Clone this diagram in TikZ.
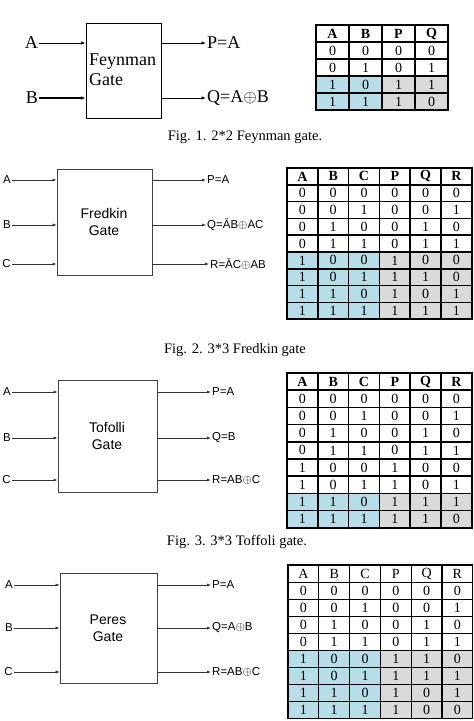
\documentclass[tikz,border=0pt]{standalone}
\usepackage{fontspec}
\setmainfont{Liberation Serif}
\newfontfamily\arialf{Liberation Sans}
\usetikzlibrary{arrows.meta}
\definecolor{tblue}{RGB}{183,221,232}
\definecolor{tgray}{RGB}{218,218,218}
\newcommand\truthtable[9]{%
  \foreach \row [count=\r from 0] in {#9} {
    \foreach \val [count=\c from 0] in \row {
      \pgfmathsetmacro\cx{#2+(\c+0.5)*#4}
      \pgfmathsetmacro\cy{#3+(\r+0.5)*#5}
      \ifnum\r<#7\relax \def\cellfill{white}\else \ifnum\c<#6\relax\def\cellfill{tblue}\else\def\cellfill{tgray}\fi\fi
      \ifnum\r=0\relax \def\cellfont{#8}\else\def\cellfont{}\fi
      \node[cell, minimum width=#4pt, minimum height=#5pt, fill=\cellfill] (#1-\r-\c) at (\cx,\cy) {\cellfont\val};
    }
  }
}
\begin{document}
\begin{tikzpicture}[x=1pt,y=-1pt,
  cell/.style={draw=black, line width=1.6pt, inner sep=0pt, font=\fontsize{14}{16}\selectfont},
  gatebox/.style={draw=black!75, line width=0.8pt, inner sep=0pt},
  garr/.style={-{Latex[length=4pt,width=3pt]}, line width=0.7pt, draw=black!80},
  farr/.style={-{Latex[length=4.5pt,width=3.5pt]}, line width=0.9pt},
  slab/.style={font=\arialf\fontsize{11.5}{13}\selectfont, inner sep=1pt},
  gtext/.style={font=\arialf\fontsize{14}{17}\selectfont, align=center},
  tlab/.style={font=\fontsize{18}{20}\selectfont, inner sep=1pt},
  figcap/.style={font=\fontsize{14.5}{17}\selectfont}]
\useasboundingbox (0,0) rectangle (474,721);

% ---------- Fig 1: Feynman ----------
\node[gatebox, draw=black, minimum width=75pt, minimum height=95pt] (g1) at (123.5,70.5) {};
\node[anchor=west, align=left, font=\fontsize{18}{20}\selectfont, inner sep=0pt] (g1t) at (89,70) {Feynman\\Gate};
\node[tlab, anchor=east] (a1) at (39,43) {A};
\node[tlab, anchor=east] (b1) at (39,98) {B};
\draw[farr] (a1.east) -- (a1.east -| g1.west);
\draw[farr, line width=1.3pt] (b1.east) -- (b1.east -| g1.west);
\node[tlab, anchor=west] (p1) at (206,43) {P=A};
\node[tlab, anchor=west] (q1) at (206,98) {Q=A$\oplus$B};
\draw[farr] (g1.east |- p1.west) -- (p1.west);
\draw[farr] (g1.east |- q1.west) -- (q1.west);
\truthtable{t1}{316}{25}{33}{17}{2}{3}{\bfseries}{{A,B,P,Q},{0,0,0,0},{0,1,0,1},{1,0,1,1},{1,1,1,0}}
\node[figcap] (c1) at (245,137) {Fig. 1. 2*2 Feynman gate.};

% ---------- Fig 2: Fredkin ----------
\node[gatebox, minimum width=95pt, minimum height=106pt] (g2) at (104.5,222) {};
\node[gtext] (g2t) at (104,222) {Fredkin\\Gate};
\node[slab, anchor=east] (a2) at (12,180) {A};
\node[slab, anchor=east] (b2) at (12,225) {B};
\node[slab, anchor=east] (cc2) at (12,264) {C};
\draw[garr] (a2.east) -- (a2.east -| g2.west);
\draw[garr, line width=0.5pt] (b2.east) -- (b2.east -| g2.west);
\draw[garr, line width=1pt] (cc2.east) -- (cc2.east -| g2.west);
\node[slab, anchor=west] (p2) at (206,180) {P=A};
\node[slab, anchor=west] (q2) at (206,225) {Q=ĀB$\oplus$AC};
\node[slab, anchor=west] (r2) at (209,264) {R=ĀC$\oplus$AB};
\draw[garr] (g2.east |- p2.west) -- (p2.west);
\draw[garr, line width=0.5pt] (g2.east |- q2.west) -- (q2.west);
\draw[garr, line width=1pt] (g2.east |- r2.west) -- (r2.west);
\truthtable{t2}{287}{168}{30.8}{16.8}{3}{5}{\bfseries}{{A,B,C,P,Q,R},{0,0,0,0,0,0},{0,0,1,0,0,1},{0,1,0,0,1,0},{0,1,1,0,1,1},{1,0,0,1,0,0},{1,0,1,1,1,0},{1,1,0,1,0,1},{1,1,1,1,1,1}}
\node[figcap] (c2) at (235,350) {Fig. 2. 3*3 Fredkin gate};

% ---------- Fig 3: Toffoli ----------
\node[gatebox, minimum width=99pt, minimum height=112pt] (g3) at (107.5,436) {};
\node[gtext] (g3t) at (107,436) {Tofolli\\Gate};
\node[slab, anchor=east] (a3) at (12,392) {A};
\node[slab, anchor=east] (b3) at (12,438) {B};
\node[slab, anchor=east] (cc3) at (12,480) {C};
\draw[garr] (a3.east) -- (a3.east -| g3.west);
\draw[garr] (b3.east) -- (b3.east -| g3.west);
\draw[garr, line width=1pt] (cc3.east) -- (cc3.east -| g3.west);
\node[slab, anchor=west] (p3) at (211,392) {P=A};
\node[slab, anchor=west] (q3) at (211,438) {Q=B};
\node[slab, anchor=west] (r3) at (211,480) {R=AB$\oplus$C};
\draw[garr] (g3.east |- p3.west) -- (p3.west);
\draw[garr, line width=1pt] (g3.east |- q3.west) -- (q3.west);
\draw[garr, line width=1pt] (g3.east |- r3.west) -- (r3.west);
\truthtable{t3}{287}{373}{30.8}{17.2}{3}{7}{\bfseries}{{A,B,C,P,Q,R},{0,0,0,0,0,0},{0,0,1,0,0,1},{0,1,0,0,1,0},{0,1,1,0,1,1},{1,0,0,1,0,0},{1,0,1,1,0,1},{1,1,0,1,1,1},{1,1,1,1,1,0}}
\node[figcap] (c3) at (237,542) {Fig. 3. 3*3 Toffoli gate.};

% ---------- Fig 4: Peres ----------
\node[gatebox, minimum width=97pt, minimum height=110pt] (g4) at (108.5,628) {};
\node[gtext] (g4t) at (108,628) {Peres\\Gate};
\node[slab, anchor=east] (a4) at (14,585) {A};
\node[slab, anchor=east] (b4) at (14,628) {B};
\node[slab, anchor=east] (cc4) at (14,672) {C};
\draw[garr, line width=0.5pt] (a4.east) -- (a4.east -| g4.west);
\draw[garr] (b4.east) -- (b4.east -| g4.west);
\draw[garr, line width=0.5pt] (cc4.east) -- (cc4.east -| g4.west);
\node[slab, anchor=west] (p4) at (211,585) {P=A};
\node[slab, anchor=west] (q4) at (211,628) {Q=A$\oplus$B};
\node[slab, anchor=west] (r4) at (211,672) {R=AB$\oplus$C};
\draw[garr, line width=0.5pt] (g4.east |- p4.west) -- (p4.west);
\draw[garr, line width=1pt] (g4.east |- q4.west) -- (q4.west);
\draw[garr] (g4.east |- r4.west) -- (r4.west);
\begin{scope}[cell/.append style={line width=1.1pt}]
\truthtable{t4}{288}{565}{30.8}{17.1}{3}{5}{}{{A,B,C,P,Q,R},{0,0,0,0,0,0},{0,0,1,0,0,1},{0,1,0,0,1,0},{0,1,1,0,1,1},{1,0,0,1,1,0},{1,0,1,1,1,1},{1,1,0,1,0,1},{1,1,1,1,0,0}}
\end{scope}
\end{tikzpicture}
\end{document}
